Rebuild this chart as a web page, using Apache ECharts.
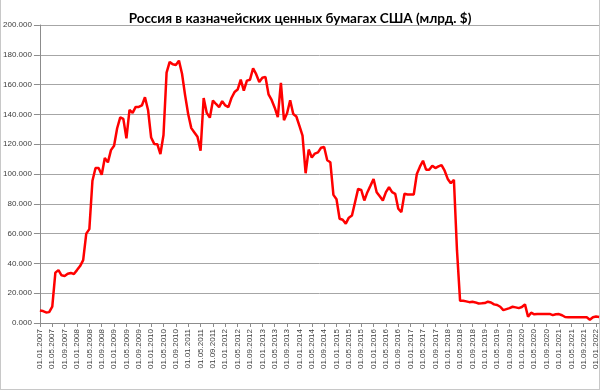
<!DOCTYPE html>
<html>
<head>
<meta charset="utf-8">
<script src="https://cdn.jsdelivr.net/npm/echarts@6/dist/echarts.min.js"></script>
<style>
html,body{margin:0;padding:0;background:#fff;}
#frame{position:absolute;left:0;top:-2px;width:598px;height:390px;border:1px solid #c8c8c8;}
#chart{position:absolute;left:0;top:0;width:600px;height:392px;}
</style>
</head>
<body>
<div id="frame"></div>
<div id="chart"></div>
<script>
const title = "Россия в казначейских ценных бумагах США (млрд. $)";
const startYear = 2007;
const monthCount = 182;
const categories = [];
for (let i = 0; i < monthCount; i++) {
  const y = startYear + Math.floor(i / 12);
  const m = (i % 12) + 1;
  categories.push("01." + (m < 10 ? "0" + m : m) + "." + y);
}
const holdings = [
  8.4, 8.0, 7.1, 7.3, 11, 33.8, 35.5, 32, 31.6, 33.1, 33.6, 32.9,
  35.5, 38.2, 42.2, 60, 63, 95.5, 104, 104, 99.5, 110.7, 107.8, 116,
  119, 130.7, 138, 137, 124, 143, 141, 145, 145, 146, 151.5, 143,
  124.5, 120.2, 120, 113.4, 126.2, 168, 175.2, 173.6, 173.2, 176.1, 167.3, 152.8,
  140.1, 130.8, 127.9, 125, 115.7, 151, 141, 137.8, 149.3, 147, 144.9, 148.9,
  146, 144.9, 151, 155, 156.7, 163.3, 156, 162.7, 163.3, 171, 167, 161.8,
  164.6, 165.2, 153.5, 149.7, 144.5, 138.1, 161.2, 136.1, 140.8, 149.5, 140.3, 138.6,
  132.3, 125.7, 100.5, 116.4, 111.1, 113.7, 114.5, 117.6, 118.1, 109.2, 107.9, 86,
  83.1, 70, 69.3, 66.7, 70.7, 72.2, 81.1, 90, 89.3, 82.2, 87.8, 92.2,
  96.7, 87.8, 85, 82.2, 87.8, 91.1, 87.8, 86.7, 76.7, 74.4, 86.7, 86.2,
  86.2, 86.2, 100, 104.9, 108.9, 102.9, 102.9, 105.6, 104, 105.1, 106, 102.2,
  96.7, 93.8, 96.1, 48.7, 14.9, 14.9, 14.5, 14.0, 14.2, 13.8, 13.1, 13.2,
  13.4, 14.3, 13.8, 12.5, 12.1, 10.9, 8.6, 9.3, 10, 10.9, 10.5, 10,
  10.7, 12.5, 4.2, 6.9, 5.8, 6.1, 6.1, 6.1, 6.1, 6.1, 5.3, 5.9,
  6, 5.2, 4, 3.8, 3.8, 3.8, 3.8, 3.8, 3.8, 3.8, 2.2, 3.9,
  4.3, 4
];
const yMin = 0, yMax = 200, yStep = 20;

const chart = echarts.init(document.getElementById('chart'), null, {renderer: 'canvas'});
chart.setOption({
  animation: false,
  backgroundColor: 'transparent',
  title: {
    text: title,
    left: 'center',
    top: 7,
    textStyle: {fontFamily: 'Lato', fontWeight: 'bold', fontSize: 13.5, color: '#000'}
  },
  grid: {left: 36, right: 0, top: 25, bottom: 69, containLabel: false},
  xAxis: {
    type: 'category',
    data: categories,
    boundaryGap: false,
    axisLine: {lineStyle: {color: '#8c8c8c', width: 1}},
    axisTick: {show: true, interval: 3, length: 4, lineStyle: {color: '#8c8c8c'}},
    axisLabel: {
      interval: 3, rotate: 90, fontSize: 8, color: '#404040',
      fontFamily: 'Liberation Sans', margin: 6
    },
    splitLine: {show: false}
  },
  yAxis: {
    type: 'value',
    min: yMin, max: yMax, interval: yStep,
    axisLine: {show: true, lineStyle: {color: '#8c8c8c', width: 1}},
    axisTick: {show: true, length: 6, lineStyle: {color: '#8c8c8c'}},
    axisLabel: {
      fontSize: 8, color: '#404040', fontFamily: 'Liberation Sans', margin: 8,
      formatter: v => v.toFixed(3)
    },
    splitLine: {show: true, lineStyle: {color: '#a6a6a6', width: 1}}
  },
  series: [{
    type: 'line',
    data: holdings,
    showSymbol: false,
    symbol: 'none',
    lineStyle: {color: '#ff0000', width: 2.5},
    itemStyle: {color: '#ff0000'}
  }]
});
</script>
</body>
</html>
